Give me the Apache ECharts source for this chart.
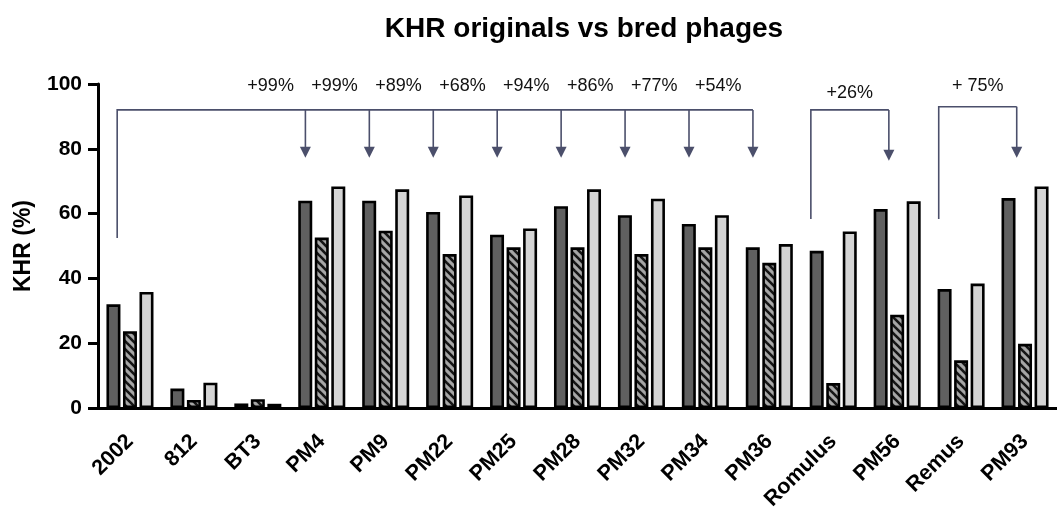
<!DOCTYPE html>
<html>
<head>
<meta charset="utf-8">
<script src="https://cdn.jsdelivr.net/npm/echarts@6/dist/echarts.min.js"></script>
<style>html,body{margin:0;padding:0;background:#fff}#c{width:1057px;height:515px}</style>
</head>
<body>
<div id="c"></div>
<script>
const categories = ['2002','812','BT3','PM4','PM9','PM22','PM25','PM28','PM32','PM34','PM36','Romulus','PM56','Remus','PM93'];
const seriesA = [32, 6, 1.4, 64, 64, 60.5, 53.5, 62.3, 59.5, 56.8, 49.6, 48.5, 61.4, 36.7, 64.8];
const seriesB = [23.7, 2.5, 2.7, 52.6, 54.7, 47.5, 49.6, 49.6, 47.5, 49.6, 44.8, 7.7, 28.8, 14.7, 19.8];
const seriesC = [35.8, 7.8, 1.3, 68.4, 67.5, 65.6, 55.4, 67.5, 64.6, 59.5, 50.6, 54.5, 63.8, 38.4, 68.4];
const yTicks = [0, 20, 40, 60, 80, 100];

// annotations: original -> bred
const bracketFrom = [0, 11, 13];
const bracketTargets = [[3,4,5,6,7,8,9,10],[12],[14]];
const bracketLabels = [['+99%','+99%','+89%','+68%','+94%','+86%','+77%','+54%'],['+26%'],['+ 75%']];
const bracketTop = [92, 92, 93];
const bracketBottom = [52.5, 58.3, 58.3];
const arrowTip = [77.2, 76.3, 77.2];
const labelLevel = [99.4, 97.2, 99.4];

const chart = echarts.init(document.getElementById('c'), null, {renderer: 'canvas'});

function hatch() {
  const s = 8;
  const cv = document.createElement('canvas');
  cv.width = s; cv.height = s;
  const ctx = cv.getContext('2d');
  ctx.fillStyle = '#a6a6a6';
  ctx.fillRect(0, 0, s, s);
  ctx.strokeStyle = '#151515';
  ctx.lineWidth = 2.6;
  ctx.lineCap = 'square';
  for (const k of [-s, 0, s]) {
    ctx.beginPath();
    ctx.moveTo(-2, -2 + k);
    ctx.lineTo(s + 2, s + 2 + k);
    ctx.stroke();
  }
  return cv;
}

const FONT = '"Liberation Sans", Arial, Helvetica, sans-serif';
const LINE = '#4b4f6b';

function renderBracket(params, api) {
  const i = params.dataIndex;
  const band = api.size([1, 0])[0];
  const P = (idx, off, v) => { const p = api.coord([idx, v]); return [p[0] + off * band, p[1]]; };
  const children = [];
  const main = i === 0;
  const leftOff = main ? -0.2 : -0.35;
  const arrOff = main ? -0.256 : -0.13;
  const targets = bracketTargets[i];
  const leftTop = P(bracketFrom[i], leftOff, bracketTop[i]);
  const leftBot = P(bracketFrom[i], leftOff, bracketBottom[i]);
  const lastTarget = P(targets[targets.length - 1], arrOff, bracketTop[i]);
  const ls = {stroke: LINE, lineWidth: 1.6, fill: null};
  children.push({type: 'polyline', shape: {points: [leftBot, leftTop, lastTarget]}, style: ls});
  targets.forEach((t, j) => {
    const top = P(t, arrOff, bracketTop[i]);
    const tip = P(t, arrOff, arrowTip[i]);
    const headH = 11, headW = 5.5;
    children.push({type: 'line', shape: {x1: top[0], y1: top[1], x2: tip[0], y2: tip[1] - headH + 1}, style: {stroke: LINE, lineWidth: 1.6}});
    children.push({type: 'polygon', shape: {points: [[tip[0] - headW, tip[1] - headH], [tip[0] + headW, tip[1] - headH], [tip[0], tip[1]]]}, style: {fill: LINE}});
    let lx, ly;
    if (main) {
      const lp = P(t, -0.8, labelLevel[i]);
      lx = lp[0]; ly = lp[1];
    } else {
      const lp = P(bracketFrom[i], 0, labelLevel[i]);
      lx = (leftTop[0] + top[0]) / 2; ly = lp[1];
    }
    children.push({type: 'text', style: {text: bracketLabels[i][j], x: lx, y: ly, align: 'center', verticalAlign: 'middle', fill: '#111', font: '18px ' + FONT}});
  });
  return {type: 'group', children};
}

const barCommon = {
  type: 'bar',
  barWidth: 14,
  barGap: '18%',
  emphasis: {disabled: true},
  animation: false
};
const border = {borderColor: '#000', borderWidth: 2.6};

chart.setOption({
  animation: false,
  title: {
    text: 'KHR originals vs bred phages',
    left: 579, top: 10, textAlign: 'center',
    textStyle: {fontFamily: FONT, fontSize: 28, fontWeight: 'bold', color: '#000'}
  },
  grid: {left: 98, top: 84, width: 966, height: 324, containLabel: false},
  xAxis: {
    type: 'category',
    data: categories,
    axisLine: {lineStyle: {color: '#000', width: 3}},
    axisTick: {alignWithLabel: true, length: 13, lineStyle: {color: '#000', width: 3}},
    axisLabel: {rotate: 45, margin: 30, color: '#000', fontFamily: FONT, fontSize: 21.5, fontWeight: 'bold'}
  },
  yAxis: {
    type: 'value',
    min: 0, max: 100, interval: 20,
    name: 'KHR (%)',
    nameLocation: 'middle',
    nameGap: 63,
    nameTextStyle: {fontFamily: FONT, fontSize: 23, fontWeight: 'bold', color: '#000'},
    splitLine: {show: false},
    axisLine: {show: true, lineStyle: {color: '#000', width: 3}},
    axisTick: {show: true, length: 10, lineStyle: {color: '#000', width: 3}},
    axisLabel: {margin: 16, color: '#000', fontFamily: FONT, fontSize: 21, fontWeight: 'bold',
      formatter: v => yTicks.includes(v) ? String(v) : ''}
  },
  series: [
    Object.assign({}, barCommon, {name: 'A', data: seriesA, itemStyle: Object.assign({color: '#606060'}, border)}),
    Object.assign({}, barCommon, {name: 'B', data: seriesB, itemStyle: Object.assign({color: {image: hatch(), repeat: 'repeat'}}, border)}),
    Object.assign({}, barCommon, {name: 'C', data: seriesC, itemStyle: Object.assign({color: '#d4d4d4'}, border)}),
    {
      type: 'custom',
      clip: false,
      silent: true,
      z: 5,
      renderItem: renderBracket,
      data: bracketFrom.map((f, i) => [f, bracketTop[i]])
    }
  ]
});
</script>
</body>
</html>
